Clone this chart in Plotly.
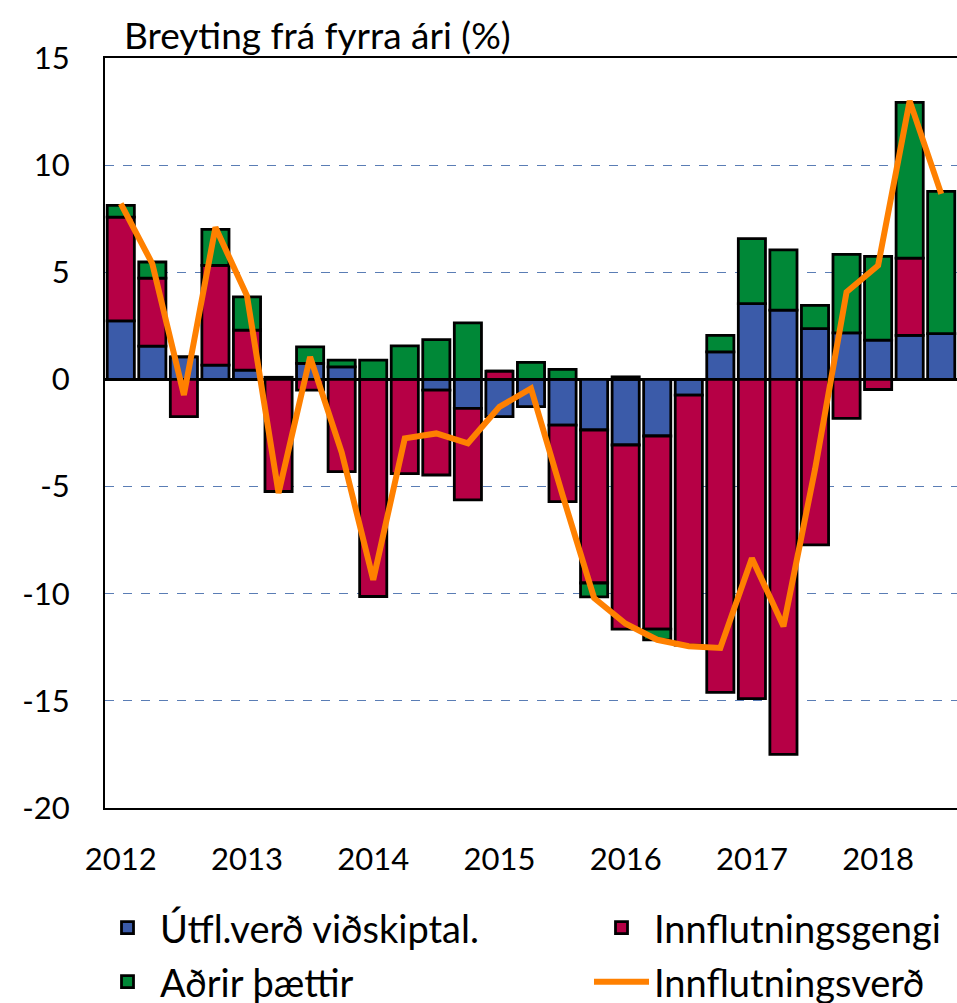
import plotly.graph_objects as go

quarters = ["2012Q1","2012Q2","2012Q3","2012Q4","2013Q1","2013Q2","2013Q3","2013Q4",
            "2014Q1","2014Q2","2014Q3","2014Q4","2015Q1","2015Q2","2015Q3","2015Q4",
            "2016Q1","2016Q2","2016Q3","2016Q4","2017Q1","2017Q2","2017Q3","2017Q4",
            "2018Q1","2018Q2","2018Q3"]
year_ticks = ["2012Q1","2013Q1","2014Q1","2015Q1","2016Q1","2017Q1","2018Q1"]
year_labels = ["2012","2013","2014","2015","2016","2017","2018"]
y_tickvals = [-20, -15, -10, -5, 0, 5, 10, 15]
y_ticktext = ["-20", "-15", "-10", "-5", "0", "5", "10", "15"]

utfl = [2.73, 1.55, 1.05, 0.67, 0.43, 0.10, 0.75, 0.59, 0.0, 0.0, -0.50, -1.35, -1.74, -1.27,
        -2.13, -2.36, -3.06, -2.64, -0.73, 1.29, 3.54, 3.23, 2.37, 2.17, 1.83, 2.06, 2.14]
gengi = [4.84, 3.18, -1.74, 4.65, 1.87, -5.23, -0.50, -4.30, -10.13, -4.40, -3.96, -4.27, 0.39, 0.0,
         -3.57, -7.14, -8.59, -9.01, -11.67, -14.60, -14.90, -17.50, -7.72, -1.82, -0.47, 3.60, 0.0]
adrir = [0.55, 0.75, 0.0, 1.68, 1.55, 0.0, 0.77, 0.31, 0.90, 1.57, 1.86, 2.64, 0.0, 0.80,
         0.47, -0.65, 0.12, -0.50, 0.0, 0.77, 3.03, 2.82, 1.09, 3.67, 3.91, 7.27, 6.64]
innfl_verd = [8.2, 5.4, -0.73, 7.1, 3.9, -5.3, 1.05, -3.4, -9.35, -2.75, -2.52, -2.98, -1.28, -0.42,
              -5.4, -10.2, -11.4, -12.15, -12.45, -12.53, -8.34, -11.52, -4.2, 4.08, 5.32, 13.0, 8.66]

FONT = "Lato"
FS = 31
LFS = 38
W, H = 957, 1003
line_style = dict(color="black", width=2.8)

fig = go.Figure()
fig.add_trace(go.Bar(x=quarters, y=utfl, name="Útfl.verð viðskiptal.",
                     marker=dict(color="#3B5BA9", line=line_style), legend="legend"))
fig.add_trace(go.Bar(x=quarters, y=gengi, name="Innflutningsgengi",
                     marker=dict(color="#B60045", line=line_style), legend="legend2"))
fig.add_trace(go.Bar(x=quarters, y=adrir, name="Aðrir þættir",
                     marker=dict(color="#008837", line=line_style), legend="legend3"))
fig.add_trace(go.Scatter(x=quarters, y=innfl_verd, name="Innflutningsverð", mode="lines",
                         line=dict(color="#FF8000", width=6), legend="legend4"))


def leg(xpx, ypx, itemwidth=55):
    return dict(xref="container", yref="container",
                x=xpx / W, y=1 - ypx / H, xanchor="left", yanchor="middle",
                font=dict(family=FONT, size=LFS, color="black"),
                itemwidth=itemwidth, bgcolor="rgba(0,0,0,0)", borderwidth=0)


fig.update_layout(
    width=W, height=H,
    margin=dict(l=105, r=0, t=58, b=195, autoexpand=False),
    paper_bgcolor="white", plot_bgcolor="white",
    barmode="relative", bargap=0.14,
    font=dict(family=FONT, size=FS, color="black"),
    showlegend=True,
    legend=leg(95, 928),
    legend2=leg(589, 928),
    legend3=leg(95, 982),
    legend4=leg(589, 982),
    annotations=[dict(text="Breyting frá fyrra ári (%)", xref="paper", yref="paper",
                      x=0.02, y=1.031, xanchor="left", yanchor="middle", showarrow=False,
                      font=dict(family=FONT, size=37, color="black"))],
)
fig.update_xaxes(type="category", categoryorder="array", categoryarray=quarters,
                 tickmode="array", tickvals=year_ticks, ticktext=year_labels,
                 showgrid=False, showline=True, linecolor="black", linewidth=2, mirror=True,
                 ticks="", ticklabelstandoff=23, range=[-0.5, 26.5], automargin=False)
fig.update_yaxes(range=[-20, 15], tickmode="array", tickvals=y_tickvals, ticktext=y_ticktext,
                 showgrid=True, gridcolor="#5A7DB5", griddash="dash", gridwidth=1.3,
                 zeroline=True, zerolinecolor="black", zerolinewidth=2.5,
                 showline=True, linecolor="black", linewidth=2, mirror=True,
                 ticks="", ticklabelstandoff=27, automargin=False)

# remove the browser's default 8px page margin so the figure fills the window
fig.write_html("out.html", config={"displayModeBar": False},
               post_script="document.body.style.margin='0';")
